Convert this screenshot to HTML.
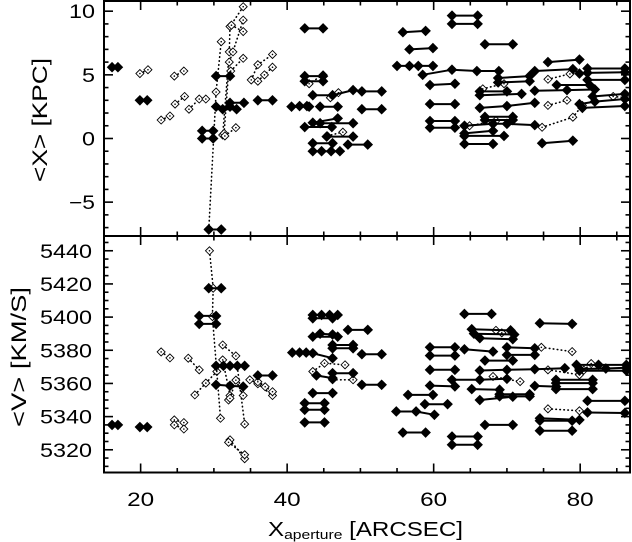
<!DOCTYPE html>
<html><head><meta charset="utf-8"><style>
html,body{margin:0;padding:0;background:#fff;}
svg{display:block;font-family:"Liberation Sans",sans-serif;}
</style></head><body>
<svg id="chart" width="632" height="542" viewBox="0 0 632 542" xmlns="http://www.w3.org/2000/svg">
<g id="top"></g>
<g id="bot"></g>
<g id="axes"></g>
<text x="268" y="536" font-size="20" textLength="195" lengthAdjust="spacingAndGlyphs">X<tspan font-size="13" dy="3">aperture</tspan><tspan dy="-3"> [ARCSEC]</tspan></text>
<text transform="translate(47,120) rotate(-90)" text-anchor="middle" font-size="21" textLength="124" lengthAdjust="spacingAndGlyphs">&lt;X&gt;  [KPC]</text>
<text transform="translate(26,357) rotate(-90)" text-anchor="middle" font-size="21" textLength="140" lengthAdjust="spacingAndGlyphs">&lt;V&gt;  [KM/S]</text>
</svg>
<script>
// ---- data ----
const xTicks = [20, 40, 60, 80];
const topTicks = [-5, 0, 5, 10];
const botTicks = [5320, 5340, 5360, 5380, 5400, 5420, 5440];

const topFilled = [
 [[16.1,5.6],[16.9,5.6]],[[19.9,3.0],[20.9,3.0]],[[29.3,-7.15],[31.0,-7.15]],
 [[28.4,0.6],[29.9,0.6]],[[28.4,0.0],[29.9,0.0]],[[30.3,4.9],[32.2,4.9]],[[30.3,2.5],[32.2,2.5]],
 [[31.2,2.3],[33.1,2.3]],[[32.2,2.8],[34.1,2.8]],[[36.0,3.0],[38.0,3.0]],[[40.6,2.5],[43.0,2.5]],
 [[42.4,8.65],[44.9,8.65]],[[42.4,4.9],[44.9,4.9]],[[42.4,4.5],[44.9,4.5]],
 [[43.5,3.4],[46.2,3.4],[49.0,3.8]],[[50.2,3.7],[52.9,3.7]],[[41.7,2.55],[42.7,2.55]],
 [[44.5,2.5],[46.9,2.5]],[[50.2,2.3],[52.9,2.3]],[[43.5,1.24],[46.9,1.58]],[[44.5,1.2],[49.0,1.2]],
 [[42.4,0.9],[46.1,0.9]],[[45.4,0.15],[49.0,0.15]],[[43.5,-0.37],[46.2,-0.37]],[[48.3,-0.48],[51.0,-0.48]],
 [[43.5,-1.0],[44.7,-1.0],[46.0,-1.0],[47.2,-1.0]],
 [[55.8,8.35],[58.9,8.45]],[[56.7,7.0],[59.9,7.1]],[[55.0,5.7],[56.7,5.7],[57.9,5.7],[59.9,5.7]],
 [[58.5,5.0],[62.5,5.4],[65.9,5.3],[68.9,5.3]],[[62.5,9.65],[66.0,9.65]],[[62.5,9.0],[66.0,9.0]],
 [[67.0,7.4],[70.8,7.4]],[[59.5,4.2],[62.9,4.3]],[[59.5,2.7],[62.9,2.7]],[[59.5,1.37],[62.9,1.37]],
 [[59.5,0.85],[62.9,0.85]],[[66.3,3.7],[70.0,3.7]],[[66.3,3.4],[72.0,3.5]],[[68.8,4.75],[73.1,4.9]],
 [[68.8,4.4],[73.1,4.5]],[[66.3,2.4],[70.0,2.55],[73.8,2.8]],[[67.0,1.7],[70.8,1.7]],[[67.0,1.45],[70.8,1.45]],
 [[64.2,1.0],[68.1,1.15],[70.0,1.15],[73.8,1.05]],[[64.2,0.4],[68.1,0.6]],[[64.2,0.2],[69.6,0.2]],
 [[64.2,-0.43],[68.1,-0.43]],[[74.8,-0.37],[79.0,-0.17]],[[75.6,6.0],[79.9,6.2]],
 [[73.8,5.3],[79.0,5.45],[79.9,5.1]],[[73.8,3.75],[78.2,3.8],[82.0,3.85]],[[76.8,4.2],[81.3,4.2]],
 [[81.0,5.5],[86.1,5.5]],[[81.0,5.15],[86.1,5.2]],[[81.0,4.6],[86.1,4.6]],
 [[79.9,2.7],[82.0,2.9],[86.1,3.1]],[[80.3,2.4],[86.1,2.55]],[[81.7,3.3],[86.1,3.5]]
];
const topOpen = [
 [[19.9,5.1],[21.0,5.4]],[[24.6,4.9],[25.9,5.3]],[[22.8,1.45],[24.0,1.77]],[[24.7,2.7],[26.0,3.3]],
 [[26.6,2.3],[28.0,3.1],[28.9,3.1]],[[29.3,-7.1],[30.3,3.65],[31.0,7.6]],
 [[31.2,0.27],[32.1,6.8],[32.2,8.8],[34.0,10.35]],[[31.4,0.4],[32.1,6.0],[32.6,6.8],[34.0,9.3]],
 [[31.5,0.2],[33.0,0.85]],[[32.3,5.3],[34.0,6.3]],[[32.4,8.9],[34.0,8.4]],
 [[35.1,4.6],[36.0,5.8],[38.0,6.6]],[[36.0,4.5],[36.9,5.0],[38.0,5.6]],
 [[43.0,4.3],[44.9,5.0]],[[45.5,0.2],[47.6,0.5]],[[45.9,3.2],[47.0,3.6]],
 [[66.7,3.9],[69.6,4.3]],[[64.9,1.0],[68.5,1.4]],
 [[74.8,0.88],[79.0,1.67],[80.3,2.6]],[[75.6,4.65],[78.6,5.07]],[[75.6,2.6],[78.2,3.0]],[[84.5,3.3],[86.3,3.2]]
];
const botFilled = [
 [[16.1,5335],[16.9,5335]],[[19.9,5333.7],[20.9,5333.7]],[[29.3,5417.4],[31.0,5417.4]],
 [[28.0,5400.7],[30.3,5400.7]],[[28.0,5395.9],[30.3,5395.9]],
 [[30.3,5370.6],[31.3,5370.6],[32.2,5370.6],[33.2,5370.6],[34.2,5370.6]],
 [[30.3,5359.2],[32.2,5358.6],[34.0,5358.1]],[[36.0,5364.8],[38.0,5364.8]],[[40.7,5378.6],[42.6,5378.6]],
 [[43.5,5401.3],[44.7,5401.3],[45.8,5401.3],[46.9,5401.3]],[[43.5,5399.3],[46.2,5399.3]],
 [[43.5,5388.2],[46.9,5388.2]],[[44.5,5390],[46.2,5389.5]],[[48.3,5392.3],[51.0,5392.3]],
 [[46.2,5383.2],[49.0,5383.2]],[[46.2,5381.2],[49.0,5381.2]],[[41.7,5378.6],[43.5,5378.2],[46.2,5375.2]],
 [[50.2,5377.6],[52.9,5377.6]],[[44.0,5364.8],[46.2,5363.2]],[[46.2,5366.2],[49.0,5366.2]],
 [[50.2,5359.2],[52.9,5359.2]],[[43.5,5354.2],[46.2,5354.2]],[[42.4,5348.1],[45.1,5348.1]],
 [[42.4,5344.1],[45.1,5344.1]],[[42.4,5336.5],[45.1,5336.5]],
 [[54.9,5343.1],[57.6,5343.1],[60.1,5341.1]],[[56.5,5353.1],[59.9,5353.1]],[[58.8,5347.5],[61.9,5347.5]],
 [[55.8,5330.4],[58.9,5330.4]],[[59.5,5381.8],[62.9,5381.8]],[[59.5,5376.8],[62.9,5376.8]],
 [[59.5,5368.2],[62.9,5368.2]],[[59.5,5358.7],[62.9,5358.2]],[[62.5,5328],[66.0,5328]],[[62.5,5323],[66.0,5323]],
 [[62.5,5362.2],[66.3,5362.2],[70.0,5362.8]],[[64.2,5401.9],[67.9,5401.9]],[[65.2,5392.7],[70.5,5392]],
 [[65.5,5390],[71.0,5389.5]],[[66.3,5387.3],[70.8,5386.7]],[[64.2,5380.6],[68.1,5379.2]],
 [[67.0,5373.8],[70.8,5373.8]],[[70.0,5381.8],[73.8,5381.2]],[[70.0,5377.2],[73.8,5377.2]],
 [[66.3,5367.8],[70.0,5368.2],[73.8,5368.6],[77.9,5369.2]],[[65.2,5356.6],[69.0,5356.2]],
 [[69.0,5353.5],[73.1,5353.5]],[[69.0,5352.2],[73.1,5352.2]],[[66.3,5350],[70.8,5352]],
 [[67.0,5335],[70.8,5335]],[[74.5,5396.3],[78.9,5395.9]],[[73.8,5358.5],[76.7,5358.1]],
 [[76.7,5362.2],[81.7,5362.2]],[[76.7,5360.2],[81.7,5360.2]],[[76.7,5356.6],[81.7,5356.6]],
 [[74.5,5337.5],[78.9,5337.5]],[[74.5,5339],[79.9,5338]],[[74.5,5331.5],[78.9,5331.5]],
 [[79.5,5371.2],[82.5,5371.2],[86.3,5371.2]],[[79.9,5368.7],[83.5,5369],[86.3,5369.5]],
 [[79.9,5367.7],[86.3,5367.7]],[[81.0,5349.5],[86.1,5349.5]],[[81.0,5342.5],[86.1,5342.2]]
];
const botOpen = [
 [[22.8,5379],[24.0,5375.4]],[[24.6,5338],[25.9,5336.4]],[[24.6,5335],[25.9,5332.5]],
 [[26.5,5375.2],[28.0,5368.2]],[[27.4,5353.1],[28.9,5360.2],[30.4,5367.2]],
 [[29.4,5440],[29.9,5417.4],[29.8,5400.3],[30.9,5339]],[[31.2,5383.2],[33.0,5376.6],[34.2,5335.5]],
 [[31.2,5374.2],[32.2,5352.7],[32.0,5350]],[[32.2,5351],[33.0,5362],[34.0,5352.7]],
 [[32.2,5326],[34.2,5314.6]],[[32.0,5324.5],[34.2,5317]],
 [[34.9,5362.2],[36.0,5359.8],[38.0,5352.7]],[[36.0,5361],[37.0,5358],[38.0,5355]],
 [[43.5,5367.2],[45.1,5372.2],[47.9,5371.2]],[[46.2,5362.2],[49.0,5362.2]],
 [[68.1,5364.2],[71.8,5361.1]],[[68.5,5392],[69.3,5390.5]],[[74.7,5381.8],[78.9,5379.2]],
 [[75.6,5368.2],[79.9,5365.2]],[[75.6,5344.7],[79.9,5343.5]],[[80.5,5368],[81.5,5372]]
];

// ---- geometry ----
const L=104, R=630, XMIN=15, XMAX=86.8;
const TT=1, TB=236, TMIN=-7.66, TMAX=10.8;
const BT=236, BB=472.5, BMIN=5306.3, BMAX=5448.9;
const sx=v=>L+(v-XMIN)/(XMAX-XMIN)*(R-L);
const syT=v=>TB-(v-TMIN)/(TMAX-TMIN)*(TB-TT);
const syB=v=>BB-(v-BMIN)/(BMAX-BMIN)*(BB-BT);
const NS="http://www.w3.org/2000/svg";
function mk(tag,attrs,parent){const e=document.createElementNS(NS,tag);for(const k in attrs)e.setAttribute(k,attrs[k]);parent.appendChild(e);return e;}
function diamond(x,y,r){return `M${x},${y-r}L${x+r},${y}L${x},${y+r}L${x-r},${y}Z`;}

function drawSeries(g,list,sy,filled){
  list.forEach((pts,i)=>{
    const d=pts.map((p,j)=>(j?'L':'M')+sx(p[0]).toFixed(1)+','+sy(p[1]).toFixed(1)).join('');
    const line=mk('path',{d:d,fill:'none',stroke:'#000','stroke-width':filled?2:1.6,'stroke-dasharray':filled?'none':'0.5,3.5','stroke-linecap':'round'},g);
    
    
    pts.forEach(p=>{
      const m=mk('path',{d:diamond(sx(p[0]),sy(p[1]),filled?4.6:4),fill:filled?'#000':'#fff',stroke:'#000','stroke-width':filled?1:0.9},g);
      
      
      if(!filled){const c=mk('circle',{cx:sx(p[0]),cy:sy(p[1]),r:0.8,fill:'#000'},g);
        
        }
    });
  });
}
const gT=document.getElementById('top'), gB=document.getElementById('bot');
drawSeries(gT,topOpen,syT,false);
drawSeries(gT,topFilled,syT,true);
drawSeries(gB,botOpen,syB,false);
drawSeries(gB,botFilled,syB,true);

const ax=document.getElementById('axes');
mk('rect',{x:R+1,y:0,width:10,height:542,fill:'#fff'},ax);
mk('rect',{x:L,y:TT,width:R-L,height:TB-TT,fill:'none',stroke:'#000','stroke-width':2},ax);
mk('rect',{x:L,y:BT,width:R-L,height:BB-BT,fill:'none',stroke:'#000','stroke-width':2},ax);

function tick(x1,y1,x2,y2){const t=mk('line',{x1,y1,x2,y2,stroke:'#000','stroke-width':1.6},ax);
  
  }
for(let v=15;v<=XMAX;v+=5){
  const x=sx(v), len=(v%20===0)?9:4.5;
  [[TT,1],[TB,-1],[BT,1],[BB,-1]].forEach(([y,s])=>tick(x,y,x,y+s*len));
}
xTicks.forEach(v=>{const s=String(v);const t=mk('text',{x:sx(v),y:506,'text-anchor':'middle','font-size':19,textLength:s.length*13.5,lengthAdjust:'spacingAndGlyphs'},ax);t.textContent=s;
  
  });
for(let v=-7;v<=10;v++){const y=syT(v),len=(v%5===0)?9:4.5;tick(L,y,L+len,y);tick(R,y,R-len,y);}
topTicks.forEach(v=>{const s=(v<0?'\u2212':'')+Math.abs(v);const t=mk('text',{x:95,y:syT(v)+7,'text-anchor':'end','font-size':19,textLength:s.length*13,lengthAdjust:'spacingAndGlyphs'},ax);t.textContent=s;
  
  });
for(let v=5310;v<=5445;v+=5){const y=syB(v),len=(v%20===0)?9:4.5;tick(L,y,L+len,y);tick(R,y,R-len,y);}
botTicks.forEach(v=>{const s=String(v);const t=mk('text',{x:92,y:syB(v)+7,'text-anchor':'end','font-size':19,textLength:52,lengthAdjust:'spacingAndGlyphs'},ax);t.textContent=s;
  
  });
</script>
</body></html>
